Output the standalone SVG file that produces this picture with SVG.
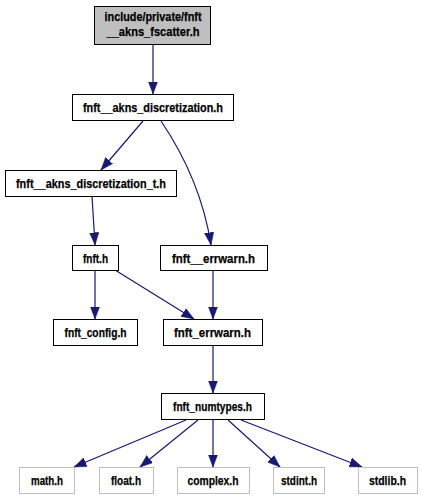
<svg xmlns="http://www.w3.org/2000/svg" width="422" height="500" viewBox="0 0 422 500">
<defs>
<style>
.n rect{fill:#ffffff;stroke:#000000;stroke-width:1}
.n.root rect{fill:#bfbfbf}
.n.ext rect{stroke:#bfbfbf}
.n text{font-family:"Liberation Sans",Arial,sans-serif;font-weight:bold;font-size:13px;text-anchor:middle;fill:#000000;stroke:#000000;stroke-width:0.25}
#edges path{fill:none;stroke:#191970;stroke-width:1.2;marker-end:url(#arr)}
</style>
<marker id="arr" markerUnits="userSpaceOnUse" markerWidth="13" markerHeight="10" viewBox="0 0 13 10" refX="12.5" refY="5" orient="auto">
<path d="M0,0.3 L12.5,5 L0,9.7 z" fill="#191970" stroke="#191970" stroke-width="0.5"/>
</marker>
</defs>
<rect width="422" height="500" fill="#ffffff"/>
<g id="edges">
<path d="M153,45 L153,94"/>
<path d="M143,121 L101,170"/>
<path d="M161,121 C186,158 204,200 211,245"/>
<path d="M92,196 L95,245"/>
<path d="M95,270 L95,319"/>
<path d="M115,270 L194,319"/>
<path d="M213,270 L213,319"/>
<path d="M213,345 L213,393"/>
<path d="M186,420 L74,467"/>
<path d="M198,420 L140,467"/>
<path d="M213,420 L213,467"/>
<path d="M228,420 L280,467"/>
<path d="M241,420 L362,467"/>
</g>
<g id="n1" class="n root"><rect x="94.5" y="6.5" width="116" height="38"/><text x="153" y="20.5" textLength="97" lengthAdjust="spacingAndGlyphs">include/private/fnft</text><text x="153" y="36" textLength="93" lengthAdjust="spacingAndGlyphs">__akns_fscatter.h</text></g>
<g id="n2" class="n"><rect x="72.5" y="94.5" width="161" height="26"/><text x="153" y="112" textLength="140" lengthAdjust="spacingAndGlyphs">fnft__akns_discretization.h</text></g>
<g id="n3" class="n"><rect x="5.5" y="170.5" width="171" height="26"/><text x="91" y="188" textLength="150" lengthAdjust="spacingAndGlyphs">fnft__akns_discretization_t.h</text></g>
<g id="n4" class="n"><rect x="72.5" y="245.5" width="46" height="25"/><text x="95.5" y="262.5" textLength="25" lengthAdjust="spacingAndGlyphs">fnft.h</text></g>
<g id="n5" class="n"><rect x="160.5" y="245.5" width="107" height="25"/><text x="213.5" y="262.5" textLength="83" lengthAdjust="spacingAndGlyphs">fnft__errwarn.h</text></g>
<g id="n6" class="n"><rect x="53.5" y="319.5" width="84" height="26"/><text x="95.5" y="337" textLength="62" lengthAdjust="spacingAndGlyphs">fnft_config.h</text></g>
<g id="n7" class="n"><rect x="163.5" y="319.5" width="99" height="26"/><text x="212.5" y="337" textLength="77" lengthAdjust="spacingAndGlyphs">fnft_errwarn.h</text></g>
<g id="n8" class="n"><rect x="161.5" y="393.5" width="103" height="26"/><text x="212.5" y="411" textLength="79" lengthAdjust="spacingAndGlyphs">fnft_numtypes.h</text></g>
<g id="n9" class="n ext"><rect x="19.5" y="467.5" width="55" height="26"/><text x="47" y="485" textLength="32" lengthAdjust="spacingAndGlyphs">math.h</text></g>
<g id="n10" class="n ext"><rect x="99.5" y="467.5" width="54" height="26"/><text x="126" y="485" textLength="30" lengthAdjust="spacingAndGlyphs">float.h</text></g>
<g id="n11" class="n ext"><rect x="177.5" y="467.5" width="72" height="26"/><text x="213" y="485" textLength="51" lengthAdjust="spacingAndGlyphs">complex.h</text></g>
<g id="n12" class="n ext"><rect x="273.5" y="467.5" width="51" height="26"/><text x="299" y="485" textLength="36" lengthAdjust="spacingAndGlyphs">stdint.h</text></g>
<g id="n13" class="n ext"><rect x="358.5" y="467.5" width="59" height="26"/><text x="387.5" y="485" textLength="37" lengthAdjust="spacingAndGlyphs">stdlib.h</text></g>
</svg>
